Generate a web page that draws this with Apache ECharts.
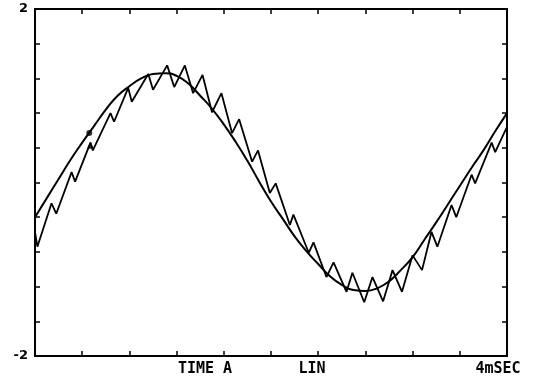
<!DOCTYPE html>
<html>
<head>
    <meta charset="utf-8">
    <title>TIME A LIN</title>
    <script src="https://cdn.jsdelivr.net/npm/echarts@6/dist/echarts.min.js"></script>
    <style type="text/css">
        html, body {
            margin: 0;
            padding: 0;
            background: #fff;
        }

        #main {
            width: 540px;
            height: 388px;
        }
    </style>
</head>
<body>
<div id="main"></div>
<script>
    // smooth reference curve, read every 0.1 ms
    var sineT = [0, 0.1, 0.2, 0.3, 0.4, 0.5, 0.6, 0.7, 0.8, 0.9,
        1.0, 1.1, 1.2, 1.3, 1.4, 1.5, 1.6, 1.7, 1.8, 1.9,
        2.0, 2.1, 2.2, 2.3, 2.4, 2.5, 2.6, 2.7, 2.8, 2.9,
        3.0, 3.1, 3.2, 3.3, 3.4, 3.5, 3.6, 3.7, 3.8, 3.9, 4.0];
    var sineV = [-0.40, -0.18, 0.04, 0.26, 0.46, 0.65, 0.84, 1.00, 1.11, 1.20,
        1.25, 1.26, 1.23, 1.14, 1.00, 0.85, 0.67, 0.47, 0.25, 0.01,
        -0.22, -0.42, -0.62, -0.79, -0.94, -1.08, -1.18, -1.24, -1.25, -1.22,
        -1.14, -1.01, -0.86, -0.66, -0.46, -0.25, -0.04, 0.17, 0.37, 0.59, 0.80];

    // zigzag (switched) curve, corner points
    var zigT = [0, 0.02, 0.14, 0.18, 0.31, 0.34, 0.47, 0.49, 0.64, 0.67,
        0.79, 0.82, 0.96, 1.00, 1.12, 1.18, 1.27, 1.34, 1.42, 1.50,
        1.58, 1.67, 1.73, 1.84, 1.89, 1.99, 2.04, 2.16, 2.19, 2.32,
        2.36, 2.47, 2.53, 2.64, 2.69, 2.79, 2.86, 2.95, 3.03, 3.11,
        3.20, 3.28, 3.36, 3.41, 3.53, 3.57, 3.70, 3.73, 3.87, 3.90, 4.0];
    var zigV = [-0.57, -0.74, -0.24, -0.36, 0.12, 0.01, 0.46, 0.37, 0.80, 0.70,
        1.09, 0.93, 1.25, 1.07, 1.35, 1.10, 1.35, 1.03, 1.24, 0.81,
        1.03, 0.57, 0.73, 0.24, 0.37, -0.12, -0.01, -0.49, -0.37, -0.81,
        -0.69, -1.09, -0.92, -1.26, -1.04, -1.38, -1.09, -1.37, -1.01, -1.26,
        -0.84, -1.01, -0.57, -0.74, -0.26, -0.40, 0.09, -0.01, 0.46, 0.35, 0.64];

    // the two little marks on the left
    var dotMark = [0.46, 0.57];
    var triMark = [0.47, 0.43];

    var yLabels = ['-2', '2'];
    var bottomTexts = ['TIME A', 'LIN', '4mSEC'];

    function zip(xs, ys) {
        var out = [];
        for (var i = 0; i < xs.length; i++) {
            out.push([xs[i], ys[i]]);
        }
        return out;
    }

    var axisStyle = {color: '#000', width: 2};
    var tickStyle = {show: true, inside: true, length: 5, lineStyle: {color: '#000', width: 1.5}};
    var textFont = 'bold 15px "DejaVu Sans Mono"';

    var myChart = echarts.init(document.getElementById('main'));
    var option = {
        animation: false,
        backgroundColor: '#fff',
        grid: {left: 35, right: 33, top: 9, bottom: 32},
        xAxis: [{
            type: 'value', min: 0, max: 4, interval: 0.4, position: 'bottom',
            axisLine: {show: true, onZero: false, lineStyle: axisStyle},
            axisTick: tickStyle,
            axisLabel: {show: false},
            splitLine: {show: false}
        }, {
            type: 'value', min: 0, max: 4, interval: 0.4, position: 'top',
            axisLine: {show: true, onZero: false, lineStyle: axisStyle},
            axisTick: tickStyle,
            axisLabel: {show: false},
            splitLine: {show: false}
        }],
        yAxis: [{
            type: 'value', min: -2, max: 2, interval: 0.4, position: 'left',
            axisLine: {show: true, onZero: false, lineStyle: axisStyle},
            axisTick: tickStyle,
            axisLabel: {
                show: true, margin: 7, color: '#000',
                fontFamily: 'DejaVu Sans', fontWeight: 'bold', fontSize: 13,
                padding: [6, 0, 0, 0],
                formatter: function (v) {
                    if (Math.abs(v + 2) < 1e-6) return yLabels[0];
                    if (Math.abs(v - 2) < 1e-6) return yLabels[1];
                    return '';
                }
            },
            splitLine: {show: false}
        }, {
            type: 'value', min: -2, max: 2, interval: 0.4, position: 'right',
            axisLine: {show: true, onZero: false, lineStyle: axisStyle},
            axisTick: tickStyle,
            axisLabel: {show: false},
            splitLine: {show: false}
        }],
        graphic: [
            {type: 'text', x: 205, y: 369, style: {text: bottomTexts[0], fill: '#000', font: textFont, textAlign: 'center', textVerticalAlign: 'middle'}},
            {type: 'text', x: 312, y: 369, style: {text: bottomTexts[1], fill: '#000', font: textFont, textAlign: 'center', textVerticalAlign: 'middle'}},
            {type: 'text', x: 498, y: 369, style: {text: bottomTexts[2], fill: '#000', font: textFont, textAlign: 'center', textVerticalAlign: 'middle'}}
        ],
        series: [{
            name: 'sine',
            type: 'line',
            data: zip(sineT, sineV),
            smooth: true,
            showSymbol: false,
            lineStyle: {color: '#000', width: 2}
        }, {
            name: 'zigzag',
            type: 'line',
            data: zip(zigT, zigV),
            showSymbol: false,
            lineStyle: {color: '#000', width: 1.8}
        }, {
            name: 'marks',
            type: 'scatter',
            data: [
                {value: dotMark, symbol: 'circle', symbolSize: 6},
                {value: triMark, symbol: 'triangle', symbolSize: 7}
            ],
            itemStyle: {color: '#000'}
        }]
    };
    myChart.setOption(option);
</script>
</body>
</html>
